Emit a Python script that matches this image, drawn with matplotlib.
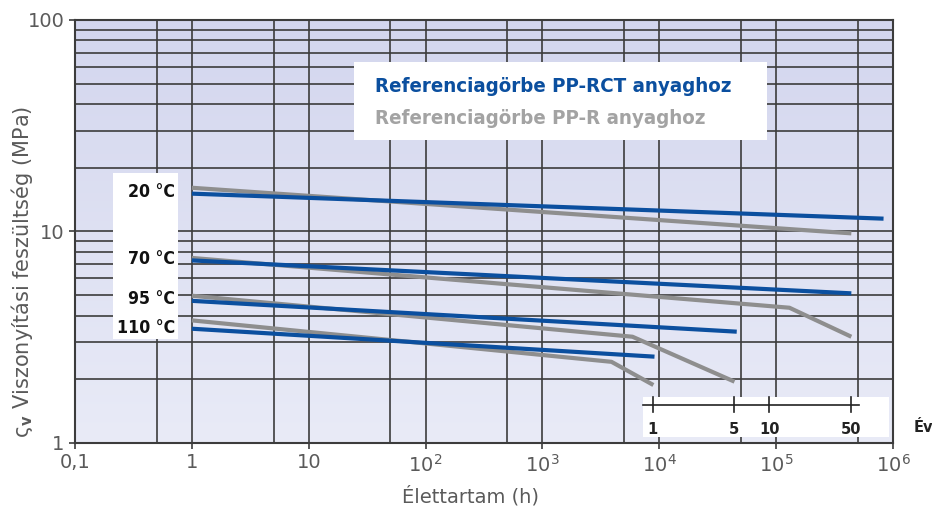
import numpy as np
import matplotlib.pyplot as plt
from matplotlib import font_manager
from matplotlib.font_manager import FontProperties
from matplotlib.ticker import LogLocator, FixedLocator, NullFormatter
from matplotlib.patches import Rectangle
import matplotlib.transforms as mtransforms

# időtartamok (h) és feszültségek (MPa)
rct_20_x = [1, 8.3e5]
rct_20_y = [15.1, 11.5]
rct_70_x = [1, 4.4e5]
rct_70_y = [7.3, 5.1]
rct_95_x = [1, 4.6e4]
rct_95_y = [4.7, 3.36]
rct_110_x = [1, 9.1e3]
rct_110_y = [3.47, 2.56]

r_20_x = [1, 4.4e5]
r_20_y = [16.1, 9.8]
r_70_x = [1, 1.3e5, 4.4e5]
r_70_y = [7.5, 4.36, 3.18]
r_95_x = [1, 5.9e3, 4.4e4]
r_95_y = [4.97, 3.18, 1.95]
r_110_x = [1, 3.9e3, 8.9e3]
r_110_y = [3.8, 2.42, 1.88]

temp_labels = ['20 °C', '70 °C', '95 °C', '110 °C']
temp_y = [15.3, 7.4, 4.8, 3.5]
years = [1, 5, 10, 50]
x_ticks = [0.1, 1, 10, 1e2, 1e3, 1e4, 1e5, 1e6]
x_ticklabels = ['0,1', '1', '10', '$10^2$', '$10^3$', '$10^4$', '$10^5$', '$10^6$']

BLUE = '#0b4f9f'
GRAY = '#8e8e8e'
GRID = '#3c3c3c'
TXT = '#5a5a5a'


def narrow_bold():
    # keskeny félkövér betű, ha van ilyen telepítve
    for f in font_manager.fontManager.ttflist:
        fn = f.fname.lower()
        if ('condensed' in fn or 'narrow' in fn) and 'bold' in fn and 'oblique' not in fn \
                and 'italic' not in fn and 'mono' not in fn:
            return FontProperties(fname=f.fname)
    return FontProperties(family='DejaVu Sans', weight='bold')


NB = narrow_bold()

fig = plt.figure(figsize=(9.32, 5.18), dpi=100)
ax = fig.add_axes([75 / 932, 75 / 518, 818 / 932, 423 / 518])
ax.set_xscale('log')
ax.set_yscale('log')
ax.set_xlim(0.1, 1e6)
ax.set_ylim(1, 100)

# háttér színátmenet
grad = np.linspace(0, 1, 256).reshape(-1, 1, 1)
top = np.array([211, 214, 238]) / 255
bot = np.array([233, 235, 247]) / 255
img = top * (1 - grad) + bot * grad
ax.imshow(img, extent=[0, 1, 0, 1], transform=ax.transAxes, aspect='auto', zorder=0)

ax.xaxis.set_major_locator(FixedLocator(x_ticks))
ax.set_xticklabels(x_ticklabels)
ax.xaxis.set_minor_locator(LogLocator(base=10, subs=[5], numticks=20))
ax.xaxis.set_minor_formatter(NullFormatter())
ax.yaxis.set_major_locator(FixedLocator([1, 10, 100]))
ax.set_yticklabels(['1', '10', '100'])
ax.yaxis.set_minor_locator(LogLocator(base=10, subs=np.arange(2, 10), numticks=20))
ax.yaxis.set_minor_formatter(NullFormatter())
ax.grid(True, which='both', color=GRID, lw=1.2, zorder=1)
ax.tick_params(which='major', length=4, width=1.2, color=GRID, labelsize=14, labelcolor=TXT)
ax.tick_params(which='minor', length=0)
for s in ax.spines.values():
    s.set_color(GRID)
    s.set_linewidth(1.5)
    s.set_zorder(2)

lw = 3.0
for x, y in [(r_20_x, r_20_y), (r_70_x, r_70_y), (r_95_x, r_95_y), (r_110_x, r_110_y)]:
    ax.plot(x, y, color=GRAY, lw=lw, solid_capstyle='butt', zorder=4)
for x, y in [(rct_20_x, rct_20_y), (rct_70_x, rct_70_y), (rct_95_x, rct_95_y), (rct_110_x, rct_110_y)]:
    ax.plot(x, y, color=BLUE, lw=lw, solid_capstyle='butt', zorder=5)

renderer = fig.canvas.get_renderer()


def fit_text(t, width_px):
    # betűméret igazítása a kívánt szélességhez
    w = t.get_window_extent(renderer).width
    t.set_fontsize(t.get_fontsize() * width_px / w)


# hőmérséklet címkék
ax.add_patch(Rectangle((0.211, 3.11), 0.76 - 0.211, 19.0 - 3.11, facecolor='white', edgecolor='none', zorder=3))
temp_texts = []
for lab, yv in zip(temp_labels, temp_y):
    t = ax.text(0.72, yv, lab, ha='right', va='center', fontproperties=NB, fontsize=13,
                color='#111111', zorder=6)
    temp_texts.append(t)
fit_text(temp_texts[-1], 58)
for t in temp_texts[:-1]:
    t.set_fontsize(temp_texts[-1].get_fontsize())

# jelmagyarázat doboz
ax.add_patch(Rectangle(((354 - 75) / 818, (443 - 140) / 423), (767 - 354) / 818, 78 / 423,
                       transform=ax.transAxes, facecolor='white', edgecolor='none', zorder=3))
t1 = ax.text((375 - 75) / 818, (443 - 87) / 423, 'Referenciagörbe PP-RCT anyaghoz', transform=ax.transAxes,
             ha='left', va='center', fontproperties=NB, fontsize=15, color=BLUE, zorder=6)
t2 = ax.text((375 - 75) / 818, (443 - 119) / 423, 'Referenciagörbe PP-R anyaghoz', transform=ax.transAxes,
             ha='left', va='center', fontproperties=NB, fontsize=15, color='#a3a3a3', zorder=6)
fit_text(t1, 358)
t2.set_fontsize(t1.get_fontsize())

# év skála
trans = mtransforms.blended_transform_factory(ax.transData, ax.transAxes)
ax.add_patch(Rectangle((7.2e3, 0.014), 9.2e5 - 7.2e3, 0.095, transform=trans,
                       facecolor='white', edgecolor='none', zorder=3))
hours = [yr * 8760 for yr in years]
ax.plot([7.2e3, 5.1e5], [0.09, 0.09], transform=trans, color='#222222', lw=1.2, zorder=6)
yfs = temp_texts[-1].get_fontsize() * 0.92
for h, yr in zip(hours, years):
    ax.plot([h, h], [0.073, 0.109], transform=trans, color='#222222', lw=1.2, zorder=6)
    ax.text(h, 0.033, str(yr), transform=trans, ha='center', va='center', fontproperties=NB,
            fontsize=yfs, color='#222222', zorder=6)
fig.text(914 / 932, (518 - 428) / 518, 'Év', ha='left', va='center', fontproperties=NB,
         fontsize=yfs, color='#222222')

ax.set_xlabel('Élettartam (h)', fontsize=14, color=TXT)
ax.xaxis.set_label_coords((470 - 75) / 818, -0.102)
ax.set_ylabel('ς$_\\mathbf{v}$ Viszonyítási feszültség (MPa)', fontsize=15, color=TXT)
ax.yaxis.set_label_coords(-0.049, 0.404)

fig.savefig('out.png', dpi=100)
